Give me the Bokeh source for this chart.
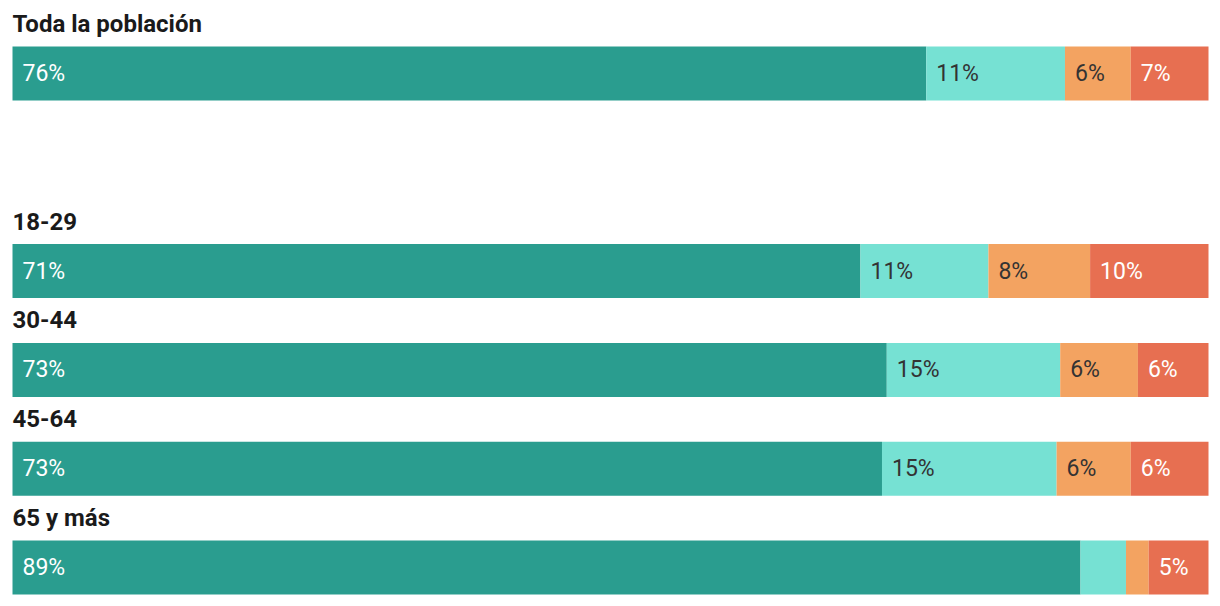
from bokeh.plotting import figure
from bokeh.models import ColumnDataSource, Range1d
from bokeh.core.properties import value
from bokeh.embed import file_html
from bokeh.resources import INLINE
import numpy as np

groups = ["Toda la población", "18-29", "30-44", "45-64", "65 y más"]
row_slots = [0, 2, 3, 4, 5]

s1 = [76.4, 70.9, 73.1, 72.7, 89.3]
s2 = [11.6, 10.7, 14.5, 14.6, 3.8]
s3 = [5.5, 8.5, 6.5, 6.2, 1.9]
s4 = [6.5, 9.9, 5.9, 6.5, 5.0]

l1 = ["76%", "71%", "73%", "73%", "89%"]
l2 = ["11%", "11%", "15%", "15%", ""]
l3 = ["6%", "8%", "6%", "6%", ""]
l4 = ["7%", "10%", "6%", "6%", "5%"]

colors = ["#2a9d8f", "#76e1d3", "#f3a361", "#e76f51"]
text_colors = ["#ffffff", "#333333", "#333333", "#ffffff"]

W, H = 1220, 606
pad = 12
plot_w = W - 2 * pad
row_step = 98.8
first_center = 73
bar_h = 54

p = figure(width=W, height=H, output_backend="svg", toolbar_location=None,
           x_range=Range1d(-pad / plot_w * 100, 100 + pad / plot_w * 100),
           y_range=Range1d(H, 0), min_border=0)
p.axis.visible = False
p.grid.visible = False
p.outline_line_color = None
p.background_fill_color = "white"
p.border_fill_color = "white"

ys = [first_center + row_step * s for s in row_slots]

series = [s1, s2, s3, s4]
labels = [l1, l2, l3, l4]
left = np.zeros(len(groups))
for vals, labs, c, tc in zip(series, labels, colors, text_colors):
    vals = np.array(vals)
    src = ColumnDataSource(dict(y=ys, left=left, right=left + vals, lab=labs))
    p.hbar(y="y", left="left", right="right", height=bar_h, source=src,
           fill_color=c, line_color=None)
    p.text(x="left", y="y", text="lab", source=src, x_offset=10,
           text_color=tc, text_font=value("Roboto"), text_font_size="23px",
           text_baseline="middle", text_align="left")
    left = left + vals

tsrc = ColumnDataSource(dict(x=[0] * len(groups), y=[y - bar_h / 2 - 23 for y in ys], t=groups))
p.text(x="x", y="y", text="t", source=tsrc, text_color="#1a1a1a",
       text_font=value("Roboto"), text_font_style="bold", text_font_size="24px",
       text_baseline="middle", text_align="left")

open("out.html", "w").write(file_html(p, INLINE))
